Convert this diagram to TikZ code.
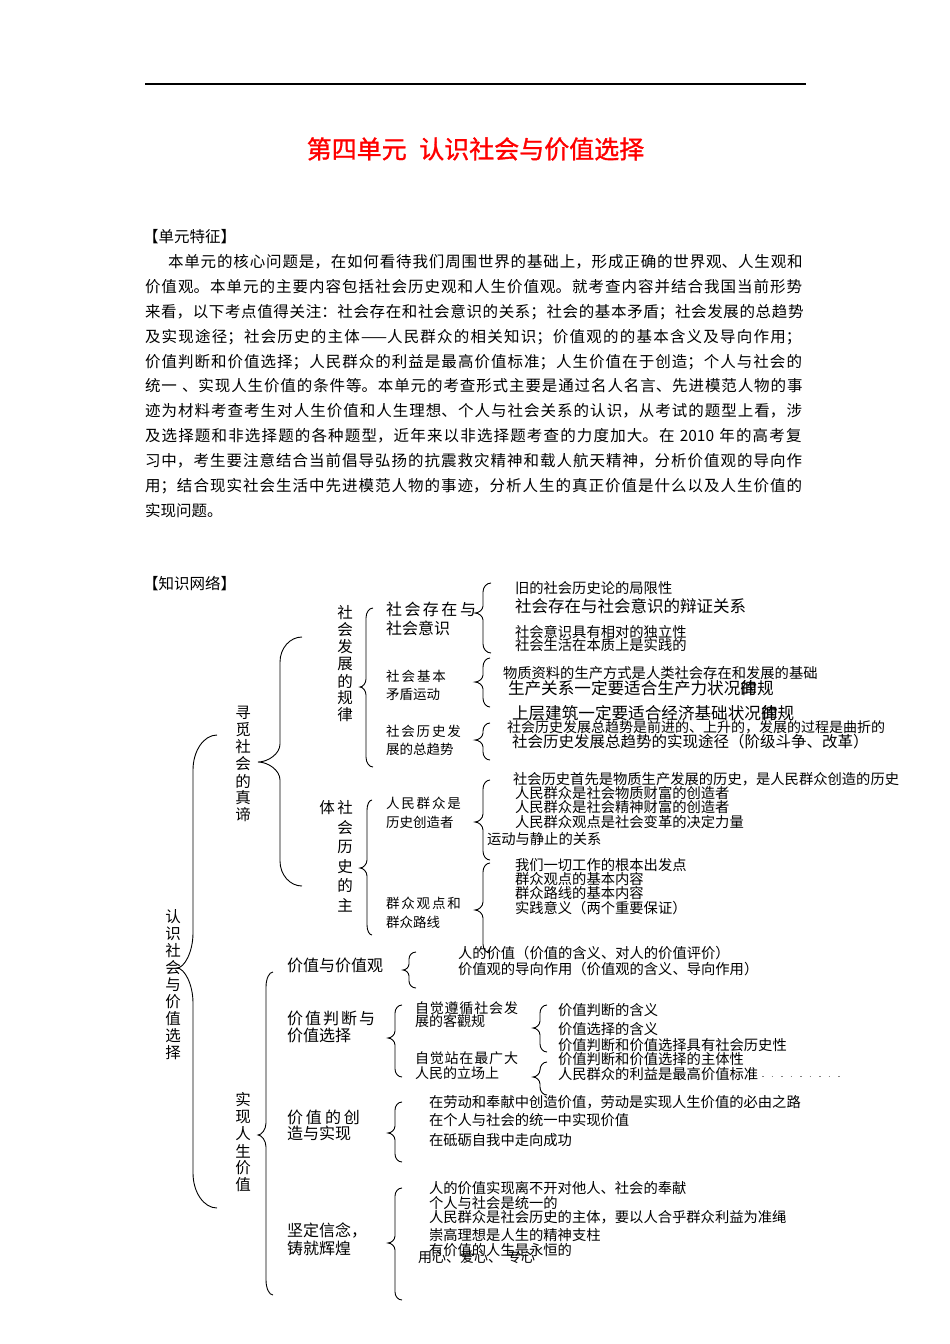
\documentclass[tikz,border=0pt]{standalone}
\usepackage{fontspec}
\setmainfont{Noto Sans CJK SC}
\newfontfamily\titlefont[FakeBold=1.2]{Noto Sans CJK SC}
\newcommand\mybrace[8]{%
 \draw[brc] (#1,#2) .. controls ({#3+0.45*(#1-#3)},#2) and (#3,{#2+0.45*#7}) .. (#3,{#2+#7})
 -- (#3,{#5-#8}) .. controls (#3,{#5-0.45*#8}) and ({#4+0.45*(#3-#4)},#5) .. (#4,#5)
 .. controls ({#4+0.45*(#3-#4)},#5) and (#3,{#5+0.45*#8}) .. (#3,{#5+#8})
 -- (#3,{#6-#7}) .. controls (#3,{#6-0.45*#7}) and ({#3+0.45*(#1-#3)},#6) .. (#1,#6);}
\newcommand\vcol[5]{%
 \foreach \c [count=\i from 0] in {#5} {\node[vch] (#1-\i) at (#2,{#3+\i*#4}) {\c};}}
\newcommand\pline[4]{%
 \node[tx,font=\fontsize{15.5}{18}\selectfont,text width=#3pt] (#4) at (#1,#2)
 {\noindent\parfillskip=0pt\XeTeXlinebreaklocale "zh"\XeTeXlinebreakskip=0pt plus 8pt\relax}
}
\tikzset{
 tx/.style={anchor=west,inner sep=0,outer sep=0},
 leaf/.style={tx,font=\fontsize{14.3}{16}\selectfont},
 leafL/.style={tx,font=\fontsize{16.6}{18}\selectfont},
 lab/.style={tx,font=\fontsize{16}{18}\selectfont},
 labS/.style={tx,font=\fontsize{13.5}{15}\selectfont},
 labM/.style={tx,font=\fontsize{14}{16}\selectfont},
 vch/.style={inner sep=0,outer sep=0,font=\fontsize{15.5}{17}\selectfont},
 brc/.style={line width=0.9pt},
 para/.style={tx,font=\fontsize{15.5}{18}\selectfont}
}
\newcommand\jl[5]{\node[para,text width=#3pt] (#4) at (#1,#2) {\noindent\parfillskip=0pt\XeTeXlinebreaklocale "zh"\XeTeXlinebreakskip=0pt plus 8pt\relax #5\par};}
\begin{document}
\begin{tikzpicture}[x=1pt,y=-1pt]
\useasboundingbox (0,0) rectangle (950,1344);
\fill[white] (0,0) rectangle (950,1344);
% header rule and title
\draw[line width=1.4pt] (145,84) -- (806,84);
\node[inner sep=0,text=red,font=\titlefont\fontsize{25}{28}\selectfont] (title) at (475.5,149) {第四单元\hspace{0.5em}认识社会与价值选择};
% paragraph
\node[para] (hd1) at (143,237) {【单元特征】};
\jl{168}{262}{638}{p1}{本单元的核心问题是，在如何看待我们周围世界的基础上，形成正确的世界观、人生观和}
\jl{145}{287}{661}{p2}{价值观。本单元的主要内容包括社会历史观和人生价值观。就考查内容并结合我国当前形势}
\jl{145}{312}{661}{p3}{来看，以下考点值得关注：社会存在和社会意识的关系；社会的基本矛盾；社会发展的总趋势}
\jl{145}{337}{661}{p4}{及实现途径；社会历史的主体——人民群众的相关知识；价值观的的基本含义及导向作用；}
\jl{145}{362}{661}{p5}{价值判断和价值选择；人民群众的利益是最高价值标准；人生价值在于创造；个人与社会的}
\jl{145}{386}{661}{p6}{统一 、实现人生价值的条件等。本单元的考查形式主要是通过名人名言、先进模范人物的事}
\jl{145}{411}{661}{p7}{迹为材料考查考生对人生价值和人生理想、个人与社会关系的认识，从考试的题型上看，涉}
\jl{145}{436}{661}{p8}{及选择题和非选择题的各种题型，近年来以非选择题考查的力度加大。在 2010 年的高考复}
\jl{145}{461}{661}{p9}{习中，考生要注意结合当前倡导弘扬的抗震救灾精神和载人航天精神，分析价值观的导向作}
\jl{145}{486}{661}{p10}{用；结合现实社会生活中先进模范人物的事迹，分析人生的真正价值是什么以及人生价值的}
\node[para] (p11) at (145,511) {实现问题。};
% knowledge network
\node[para] (kn) at (143,584) {【知识网络】};
% vertical labels
\vcol{root}{173}{917}{17}{认,识,社,会,与,价,值,选,择}
\vcol{xm}{243}{713}{17}{寻,觅,社,会,的,真,谛}
\vcol{sx}{243}{1100}{17}{实,现,人,生,价,值}
\vcol{gl}{345}{613}{17}{社,会,发,展,的,规,律}
\node[vch] (ti) at (327,808) {体};
\vcol{zt}{345}{808}{19.4}{社,会,历,史,的,主}
% braces
\mybrace{217}{735}{193}{177}{968}{1208}{35}{35}
\mybrace{302}{637}{280}{258}{762}{886}{25}{18}
\mybrace{273}{972}{266}{258}{1135}{1295}{15}{12}
\mybrace{373}{608}{366}{360}{687}{767}{10}{8}
\mybrace{372}{800}{367}{360}{868}{935}{10}{8}
\mybrace{491}{583}{483}{475}{613}{653}{9}{7}
\mybrace{490}{658}{483}{475}{682}{707}{9}{7}
\mybrace{490}{723}{483}{475}{740}{760}{8}{7}
\mybrace{490}{780}{483}{475}{822}{860}{9}{8}
\mybrace{490}{863}{483}{475}{910}{953}{9}{8}
\mybrace{416}{952}{409}{403}{970}{988}{7}{6}
\mybrace{402}{1005}{395}{388}{1038}{1077}{8}{7}
\mybrace{547}{1005}{540}{533}{1028}{1052}{8}{7}
\mybrace{547}{1062}{540}{533}{1077}{1095}{8}{7}
\mybrace{402}{1102}{395}{388}{1133}{1162}{8}{7}
\mybrace{402}{1188}{395}{388}{1243}{1300}{8}{7}
% level 4 labels (upper part)
\node[lab] (a1) at (386,609) {\makebox[90pt][s]{社\hfill 会\hfill 存\hfill 在\hfill 与}};
\node[lab] (a1b) at (386,628) {社会意识};
\node[labS] (a2) at (386,676) {\makebox[60pt][s]{社\hfill 会\hfill 基\hfill 本}};
\node[labS] (a2b) at (386,694) {矛盾运动};
\node[labS] (a3) at (386,731) {\makebox[75pt][s]{社\hfill 会\hfill 历\hfill 史\hfill 发}};
\node[labS] (a3b) at (386,749) {展的总趋势};
\node[labS] (b1) at (386,803) {\makebox[75pt][s]{人\hfill 民\hfill 群\hfill 众\hfill 是}};
\node[labS] (b1b) at (386,822) {历史创造者};
\node[labS] (b2) at (386,903) {\makebox[75pt][s]{群\hfill 众\hfill 观\hfill 点\hfill 和}};
\node[labS] (b2b) at (386,922) {群众路线};
% leaves upper
\node[leaf] (l1) at (515,588) {旧的社会历史论的局限性};
\node[tx,font=\fontsize{16.5}{18}\selectfont] (l2) at (515,606) {社会存在与社会意识的辩证关系};
\node[leaf] (l3) at (515,632) {社会意识具有相对的独立性};
\node[leaf] (l4) at (515,645) {社会生活在本质上是实践的};
\node[leaf] (l5) at (503,673) {物质资料的生产方式是人类社会存在和发展的基础};
\node[leafL] (l6) at (508,688) {生产关系一定要适合生产力状况\makebox[0pt][l]{的}律规};
\node[leafL] (l7) at (512,713) {上层建筑一定要适合经济基础状况\makebox[0pt][l]{的}律规};
\node[tx,font=\fontsize{14}{16}\selectfont] (l8) at (507,727) {社会历史发展总趋势是前进的、上升的，发展的过程是曲折的};
\node[tx,font=\fontsize{15.5}{18}\selectfont] (l9) at (512,742) {社会历史发展总趋势的实现途径（阶级斗争、改革）};
\node[leaf] (m1) at (513,779) {社会历史首先是物质生产发展的历史，是人民群众创造的历史};
\node[leaf] (m2) at (515,793) {人民群众是社会物质财富的创造者};
\node[leaf] (m3) at (515,807) {人民群众是社会精神财富的创造者};
\node[leaf] (m4) at (515,822) {人民群众观点是社会变革的决定力量};
\node[leaf] (m5) at (487,839) {运动与静止的关系};
\node[leaf] (m6) at (515,865) {我们一切工作的根本出发点};
\node[leaf] (m7) at (515,879) {群众观点的基本内容};
\node[leaf] (m8) at (515,893) {群众路线的基本内容};
\node[leaf] (m9) at (515,908) {实践意义（两个重要保证）};
% lower part
\node[lab] (c1) at (287,965) {价值与价值观};
\node[lab] (c2) at (287,1018) {\makebox[88pt][s]{价\hfill 值\hfill 判\hfill 断\hfill 与}};
\node[lab] (c2b) at (287,1035) {价值选择};
\node[lab] (c3) at (287,1117) {\makebox[73pt][s]{价\hfill 值\hfill 的\hfill 创}};
\node[lab] (c3b) at (287,1133) {造与实现};
\node[lab] (c4) at (287,1230) {坚定信念，};
\node[lab] (c4b) at (287,1248) {铸就辉煌};
\node[leaf] (n1) at (458,953) {人的价值（价值的含义、对人的价值评价）};
\node[leaf] (n2) at (458,969) {价值观的导向作用（价值观的含义、导向作用）};
\node[labM] (d1) at (415,1008) {\makebox[103pt][s]{自\hfill 觉\hfill 遵\hfill 循\hfill 社\hfill 会\hfill 发}};
\node[labM] (d1b) at (415,1021) {展的客觀规};
\node[labM] (d2) at (415,1058) {\makebox[103pt][s]{自\hfill 觉\hfill 站\hfill 在\hfill 最\hfill 广\hfill 大}};
\node[labM] (d2b) at (415,1073) {人民的立场上};
\node[leaf] (e1) at (558,1010) {价值判断的含义};
\node[leaf] (e2) at (558,1029) {价值选择的含义};
\node[leaf] (e3) at (558,1045) {价值判断和价值选择具有社会历史性};
\node[leaf] (e4) at (558,1059) {价值判断和价值选择的主体性};
\node[leaf] (e5) at (558,1074) {人民群众的利益是最高价值标准};
\coordinate (dt1) at (762,1076);
\coordinate (dt2) at (846,1076);
\draw[gray,line width=0.8pt,dash pattern=on 1.5pt off 8pt] (dt1) -- (dt2);
\node[leaf] (f1) at (429,1102) {在劳动和奉献中创造价值，劳动是实现人生价值的必由之路};
\node[leaf] (f2) at (429,1120) {在个人与社会的统一中实现价值};
\node[leaf] (f3) at (429,1140) {在砥砺自我中走向成功};
\node[leaf] (g1) at (429,1188) {人的价值实现离不开对他人、社会的奉献};
\node[leaf] (g2) at (429,1203) {个人与社会是统一的};
\node[leaf] (g3) at (429,1217) {人民群众是社会历史的主体，要以人合乎群众利益为准绳};
\node[leaf] (g4) at (429,1235) {崇高理想是人生的精神支柱};
\node[leaf] (g5) at (429,1250) {有价值的人生是永恒的};
\node[labM] (h1) at (418,1257) {用心、};
\node[labM] (h2) at (460,1257) {爱心、};
\node[labM] (h3) at (507,1257) {专心};
\end{tikzpicture}
\end{document}
